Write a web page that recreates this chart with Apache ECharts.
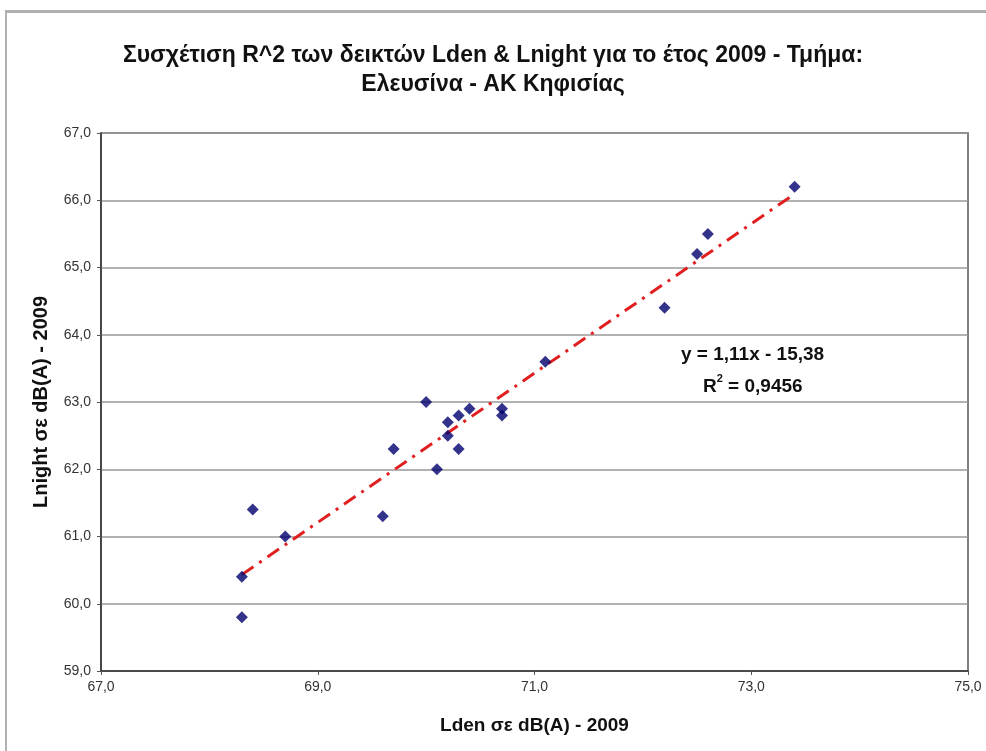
<!DOCTYPE html>
<html>
<head>
<meta charset="utf-8">
<script src="https://cdn.jsdelivr.net/npm/echarts@6/dist/echarts.min.js"></script>
<style>
html,body{margin:0;padding:0;background:#fff;}
#frame{position:absolute;left:5px;top:10px;width:990px;height:760px;border-left:2px solid #b0b0b0;border-top:3px solid #b0b0b0;}
#chart{position:absolute;left:0;top:0;width:986px;height:751px;}
</style>
</head>
<body>
<div id="frame"></div>
<div id="chart"></div>
<script>
var titleText = 'Συσχέτιση R^2 των δεικτών Lden & Lnight για το έτος 2009 - Τμήμα:\nΕλευσίνα - ΑΚ Κηφισίας';
var xAxisName = 'Lden σε dB(A) - 2009';
var yAxisName = 'Lnight σε dB(A) - 2009';
var lden   = [68.3, 68.3, 68.4, 68.7, 69.6, 69.7, 70.0, 70.1, 70.2, 70.2, 70.3, 70.3, 70.4, 70.7, 70.7, 71.1, 72.2, 72.5, 72.6, 73.4];
var lnight = [60.4, 59.8, 61.4, 61.0, 61.3, 62.3, 63.0, 62.0, 62.7, 62.5, 62.8, 62.3, 62.9, 62.9, 62.8, 63.6, 64.4, 65.2, 65.5, 66.2];
var trendSlope = 1.11;
var trendIntercept = -15.38;
var trendX = [68.3, 73.4];
var equationText = 'y = 1,11x - 15,38';
var r2Text = '0,9456';

var points = lden.map(function(x, i){ return [x, lnight[i]]; });
var trendPts = trendX.map(function(x){ return [x, trendSlope * x + trendIntercept]; });

var font = 'Liberation Sans, Arial, sans-serif';
var chart = echarts.init(document.getElementById('chart'));
chart.setOption({
  animation: false,
  backgroundColor: 'transparent',
  title: {
    text: titleText,
    left: 'center',
    top: 36,
    textStyle: {fontFamily: font, fontSize: 23, fontWeight: 'bold', color: '#111', lineHeight: 29}
  },
  grid: {left: 101, right: 18, top: 133, bottom: 80, show: true, borderColor: '#555', borderWidth: 1.5},
  xAxis: {
    type: 'value', min: 67, max: 75, interval: 2,
    name: xAxisName, nameLocation: 'middle', nameGap: 45,
    nameTextStyle: {fontFamily: font, fontSize: 19, fontWeight: 'bold', color: '#111'},
    axisLine: {show: true, onZero: false, lineStyle: {color: '#333', width: 1.5}},
    axisTick: {show: true, length: 4, lineStyle: {color: '#555'}},
    axisLabel: {fontFamily: font, fontSize: 14, color: '#333', margin: 9, formatter: function(v){ return v.toFixed(1).replace('.', ','); }},
    splitLine: {show: false}
  },
  yAxis: {
    type: 'value', min: 59, max: 67, interval: 1,
    name: yAxisName, nameLocation: 'middle', nameGap: 50, nameRotate: 90,
    nameTextStyle: {fontFamily: font, fontSize: 20, fontWeight: 'bold', color: '#111'},
    axisLine: {show: true, onZero: false, lineStyle: {color: '#333', width: 1.5}},
    axisTick: {show: true, length: 4, lineStyle: {color: '#555'}},
    axisLabel: {fontFamily: font, fontSize: 14, color: '#333', margin: 10, formatter: function(v){ return v.toFixed(1).replace('.', ','); }},
    splitLine: {show: true, lineStyle: {color: '#999', width: 1.5}}
  },
  series: [
    {
      type: 'line', data: trendPts, symbol: 'none', silent: true, z: 2,
      lineStyle: {color: '#e02020', width: 3, type: [14, 7, 3, 7]}
    },
    {
      type: 'scatter', data: points, symbol: 'diamond', symbolSize: [12, 12], z: 3,
      itemStyle: {color: '#00006e'}
    }
  ],
  graphic: [
    {
      type: 'text', left: 681, top: 345,
      style: {
        text: '{a|' + equationText + '}',
        rich: {a: {fontFamily: font, fontSize: 19, fontWeight: 'bold', fill: '#111'}}
      }
    },
    {
      type: 'text', left: 703, top: 373,
      style: {
        text: '{a|R}{s|2}{a| = ' + r2Text + '}',
        rich: {
          a: {fontFamily: font, fontSize: 19, fontWeight: 'bold', fill: '#111', verticalAlign: 'bottom', lineHeight: 23},
          s: {fontFamily: font, fontSize: 11, fontWeight: 'bold', fill: '#111', verticalAlign: 'top', lineHeight: 23, padding: [0, 0, 10, 0]}
        }
      }
    }
  ]
});
</script>
</body>
</html>
